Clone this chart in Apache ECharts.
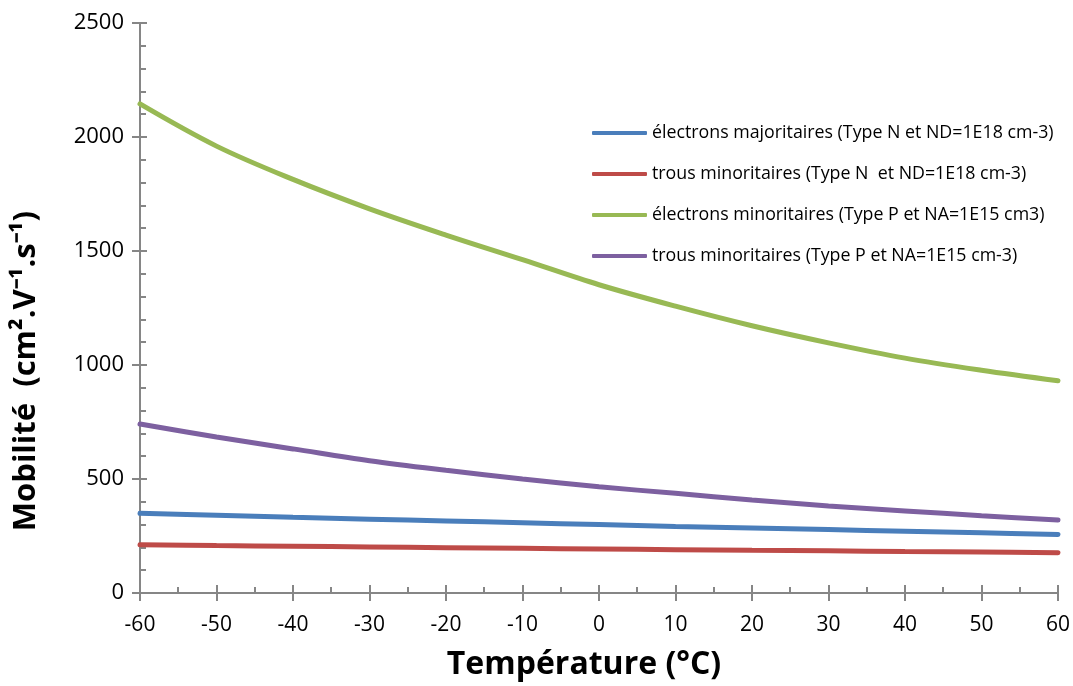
<!DOCTYPE html>
<html>
<head>
<meta charset="utf-8">
<script src="https://cdn.jsdelivr.net/npm/echarts@6/dist/echarts.min.js"></script>
<style>html,body{margin:0;padding:0;background:#fff}#c{width:1073px;height:686px}</style>
</head>
<body>
<div id="c"></div>
<script>
const temperatures = [-60,-50,-40,-30,-20,-10,0,10,20,30,40,50,60];
const seriesNames = [
  'électrons majoritaires (Type N et ND=1E18 cm-3)',
  'trous minoritaires (Type N  et ND=1E18 cm-3)',
  'électrons minoritaires (Type P et NA=1E15 cm3)',
  'trous minoritaires (Type P et NA=1E15 cm-3)'
];
const electronsMajN = [350,341,332,324,316,308,300,292,285,278,271,264,257];
const trousMinN     = [212,208,205,202,199,196,193,190,187,185,182,180,177];
const electronsMinP = [2145,1960,1814,1685,1570,1462,1352,1258,1172,1097,1030,977,931];
const trousMinP     = [741,684,632,580,538,500,466,437,408,382,360,339,320];
const colors = ['#4A7EBB','#BE4B48','#98B954','#7D60A0'];
const allValues = [electronsMajN, trousMinN, electronsMinP, trousMinP];
const xTitle = 'Température (°C)';
const yTitle = 'Mobilité  (cm².V⁻¹.s⁻¹)';

const FONT = '"Open Sans", "Liberation Sans", sans-serif';
const axisGray = '#868686';

function pairs(vals){ return temperatures.map((t,i)=>[t, vals[i]]); }
const plain = v => String(v);

const chart = echarts.init(document.getElementById('c'), null, {renderer:'canvas'});
chart.setOption({
  animation:false,
  backgroundColor:'#fff',
  grid:{left:140, right:14, top:23, bottom:93},
  legend:{
    orient:'vertical', left:587, top:119,
    itemWidth:55, itemHeight:4, itemGap:23,
    icon:'roundRect',
    textStyle:{fontFamily:FONT, fontSize:17.8, color:'#000', lineHeight:18},
    data:seriesNames
  },
  graphic:[{
    type:'text', left:11, top:211, rotation:Math.PI/2,
    style:{text:yTitle, fontFamily:FONT, fontSize:31, fontWeight:'bold', fill:'#000'}
  }],
  xAxis:[{
    type:'value', min:-60, max:60, interval:10,
    axisLine:{show:true, onZero:false, lineStyle:{color:axisGray, width:2}},
    axisTick:{show:true, length:8, lineStyle:{color:axisGray, width:2}},
    splitLine:{show:false},
    axisLabel:{fontFamily:FONT, fontSize:21, color:'#000', margin:22, formatter:plain},
    name:xTitle, nameLocation:'middle', nameGap:56,
    nameTextStyle:{fontFamily:FONT, fontSize:32, fontWeight:'bold', color:'#000', padding:[0,30,0,0]}
  },{
    type:'value', min:-60, max:60, interval:10, position:'bottom',
    axisLine:{show:false, onZero:false},
    axisTick:{show:true, inside:true, length:8, lineStyle:{color:axisGray, width:2}},
    minorTick:{show:true, splitNumber:2, length:6, lineStyle:{color:axisGray, width:2}},
    axisLabel:{show:false}, splitLine:{show:false}
  }],
  yAxis:[{
    type:'value', min:0, max:2500, interval:500,
    axisLine:{show:true, onZero:false, lineStyle:{color:axisGray, width:2}},
    axisTick:{show:true, length:8, lineStyle:{color:axisGray, width:2}},
    splitLine:{show:false},
    axisLabel:{fontFamily:FONT, fontSize:22, color:'#000', margin:16, formatter:plain}
  },{
    type:'value', min:0, max:2500, interval:500, position:'left',
    axisLine:{show:false, onZero:false},
    axisTick:{show:true, inside:true, length:7, lineStyle:{color:axisGray, width:2}},
    minorTick:{show:true, splitNumber:5, length:6, lineStyle:{color:axisGray, width:2}},
    axisLabel:{show:false}, splitLine:{show:false}
  }],
  series: seriesNames.map((n,i)=>({
    name:n, type:'line', data:pairs(allValues[i]), smooth:0.35,
    showSymbol:false, symbol:'none',
    lineStyle:{color:colors[i], width:5, cap:'round'},
    itemStyle:{color:colors[i]},
    xAxisIndex:0, yAxisIndex:0
  }))
});
</script>
</body>
</html>
